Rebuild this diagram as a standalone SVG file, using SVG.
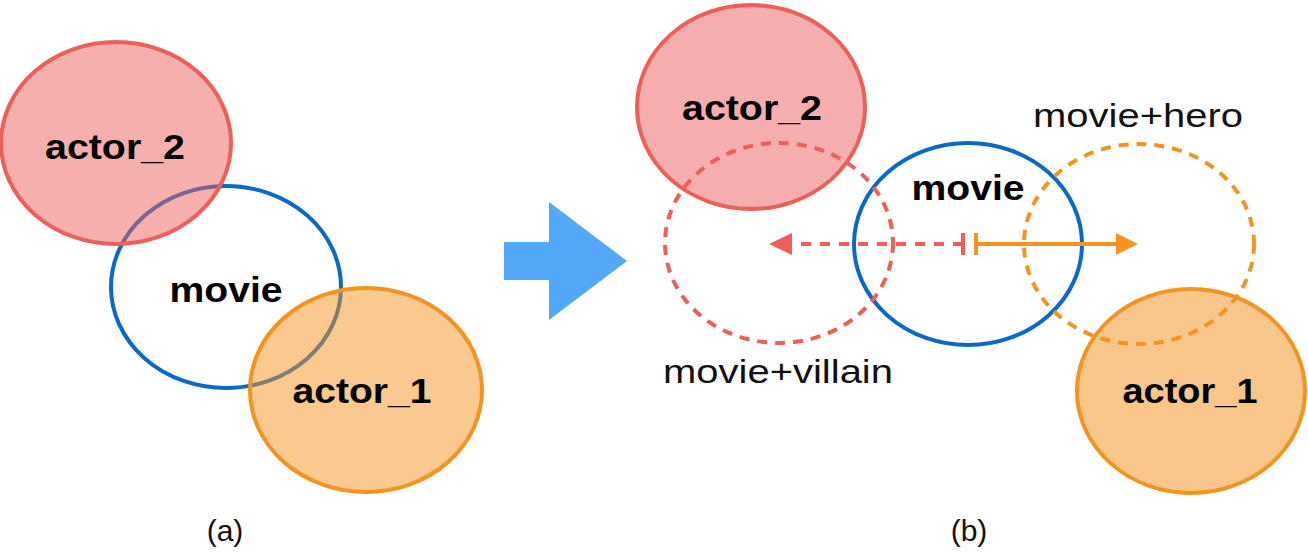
<svg xmlns="http://www.w3.org/2000/svg" width="1308" height="555" viewBox="0 0 1308 555">
  <defs>
    <style>
      .lbl { font-family: "Liberation Sans", Arial, sans-serif; font-weight: bold; font-size: 35px; fill: #000; text-anchor: middle; }
      .note { font-family: "Liberation Sans", Arial, sans-serif; font-size: 34px; fill: #111; text-anchor: middle; }
      .cap { font-family: "Liberation Sans", Arial, sans-serif; font-size: 30px; fill: #111; text-anchor: middle; }
      .red { stroke: #EC5F5B; stroke-width: 4; fill: #EC5F5B; fill-opacity: 0.5; }
      .org { stroke: #F39420; stroke-width: 4; fill: #F39420; fill-opacity: 0.5; }
      .blu { stroke: #0A68C6; stroke-width: 4; fill: none; }
      .red-dash { stroke: #EC5F5B; stroke-width: 4; fill: none; stroke-dasharray: 10 8; }
      .org-dash { stroke: #F39420; stroke-width: 4; fill: none; stroke-dasharray: 10 8; }
    </style>
  </defs>
  <rect width="1308" height="555" fill="#fff"/>

  <!-- (a) overlapping entities -->
  <g id="a-movie">
    <ellipse class="blu" cx="226" cy="287" rx="115" ry="101"/>
    <text class="lbl" x="226" y="302" textLength="113" lengthAdjust="spacingAndGlyphs">movie</text>
  </g>
  <g id="a-actor2">
    <ellipse class="red" cx="116" cy="143" rx="115" ry="101"/>
    <text class="lbl" x="115" y="159" textLength="140" lengthAdjust="spacingAndGlyphs">actor_2</text>
  </g>
  <g id="a-actor1">
    <ellipse class="org" cx="366" cy="390" rx="116" ry="102"/>
    <text class="lbl" x="362" y="403" textLength="139" lengthAdjust="spacingAndGlyphs">actor_1</text>
  </g>
  <text class="cap" x="225" y="541">(a)</text>

  <!-- transition arrow -->
  <g id="transition">
    <polygon points="504,242 549,242 549,202 627,261 549,320 549,280 504,280" fill="#52A8F9"/>
  </g>

  <!-- (b) shifted entities -->
  <g id="b-actor2">
    <ellipse cx="751" cy="107" rx="114" ry="102" fill="#F5ADAD" stroke="#EC5F5B" stroke-width="4"/>
    <text class="lbl" x="752" y="120" textLength="140" lengthAdjust="spacingAndGlyphs">actor_2</text>
  </g>
  <g id="b-actor1">
    <ellipse cx="1191" cy="391" rx="114" ry="102" fill="#F8C68A" stroke="#F39420" stroke-width="4"/>
    <text class="lbl" x="1190" y="403" textLength="135" lengthAdjust="spacingAndGlyphs">actor_1</text>
  </g>
  <g id="b-movie">
    <ellipse class="blu" cx="968" cy="244" rx="114" ry="101"/>
    <text class="lbl" x="968" y="200" textLength="113" lengthAdjust="spacingAndGlyphs">movie</text>
  </g>
  <g id="b-villain">
    <ellipse class="red-dash" cx="779" cy="243" rx="114" ry="100"/>
    <text class="note" x="778" y="383" textLength="230" lengthAdjust="spacingAndGlyphs">movie+villain</text>
  </g>
  <g id="b-hero">
    <ellipse class="org-dash" cx="1139" cy="244" rx="115" ry="100"/>
    <text class="note" x="1138" y="127" textLength="210" lengthAdjust="spacingAndGlyphs">movie+hero</text>
  </g>
  <text class="cap" x="969" y="541">(b)</text>

  <!-- offset vectors -->
  <g id="connectors">
    <line x1="963" y1="244" x2="792" y2="244" stroke="#EC5F5B" stroke-width="4" stroke-dasharray="10 9"/>
    <line x1="963" y1="233" x2="963" y2="255" stroke="#EC5F5B" stroke-width="4"/>
    <polygon points="769,244 792,233 792,255" fill="#EC5F5B"/>
    <line x1="976" y1="244" x2="1118" y2="244" stroke="#F39420" stroke-width="4"/>
    <line x1="976" y1="233" x2="976" y2="255" stroke="#F39420" stroke-width="4"/>
    <polygon points="1138,244 1116,233 1116,255" fill="#F39420"/>
  </g>
</svg>
